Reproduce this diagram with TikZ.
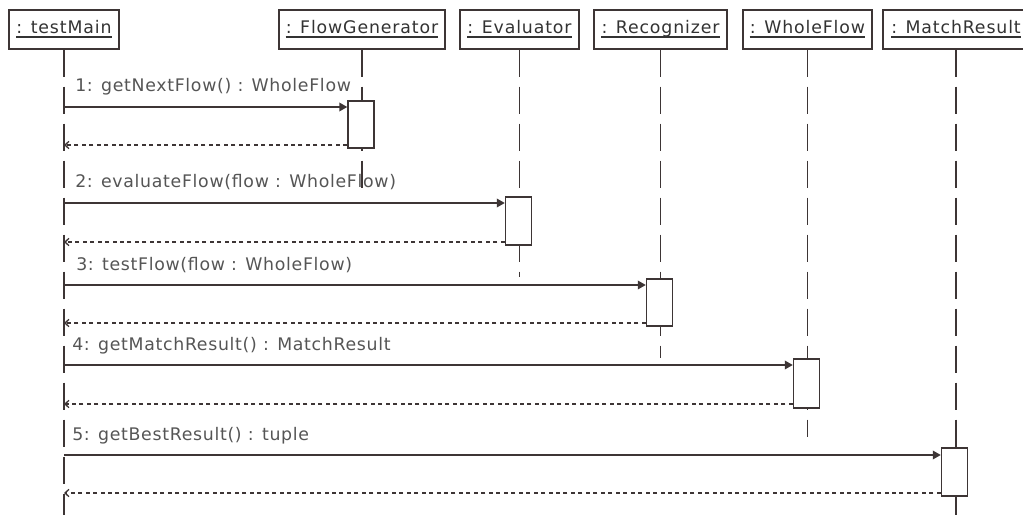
\documentclass[tikz,border=0pt]{standalone}
\usepackage{fontspec}
\setmainfont{DejaVu Sans}
\newfontfamily\msgfont[LetterSpace=4]{DejaVu Sans}
\newfontfamily\headfont[LetterSpace=5]{DejaVu Sans}
\usetikzlibrary{arrows.meta}
\definecolor{ink}{HTML}{3D3535}
\definecolor{msgtext}{HTML}{555555}
\definecolor{headtext}{HTML}{333333}
\newlength\upx
\setlength\upx{0.75pt}
\tikzset{
  head/.style={draw=ink, fill=white, line width=1.1pt, minimum height=39\upx, inner sep=0pt},
  headlabel/.style={inner sep=0pt, anchor=base, text=headtext, font=\headfont\fontsize{13}{15}\selectfont},
  headline/.style={draw=headtext, line width=0.8pt},
  life/.style={draw=ink, line width=1.1pt, dash pattern=on 20.25pt off 7.5pt},
  actbox/.style={draw=ink, fill=white, line width=1.1pt, minimum width=26\upx, inner sep=0pt},
  call/.style={draw=ink, line width=1.1pt, -{Triangle[length=6pt,width=6.5pt]}},
  ret/.style={draw=ink, line width=1pt, dash pattern=on 3pt off 2.6pt, -{Straight Barb[length=3pt,width=5.5pt]}},
  msg/.style={inner sep=0pt, anchor=base west, text=msgtext, font=\msgfont\fontsize{13}{15}\selectfont}
}
% a lifeline head: box, then its underlined name clipped to the box interior
\newcommand\objhead[5]{% name, centre x, width, text, inset
  \node[head, minimum width=#3\upx] (#1) at (#2,29.5) {};
  \begin{scope}
    \clip ([xshift=#5\upx]#1.south west) rectangle ([xshift=-#5\upx]#1.north east);
    \node[headlabel] (#1txt) at (#1.center |- 0,33) {#4};
    \draw[headline] ([yshift=-3pt]#1txt.base west) -- ([yshift=-3pt]#1txt.base east);
  \end{scope}
}
\begin{document}
\begin{tikzpicture}[x=0.75pt, y=-0.75pt]
\useasboundingbox (0,0) rectangle (1023,515);

% object heads
\objhead{tm}{64}{110}{: testMain}{7}
\objhead{fg}{362}{166}{: FlowGenerator}{7}
\objhead{ev}{519.5}{119}{: Evaluator}{7}
\objhead{rc}{660.5}{133}{: Recognizer}{7}
\objhead{wf}{807.5}{129}{: WholeFlow}{7}
\objhead{mr}{956}{146}{: MatchResult}{7}

% lifelines
\coordinate (tmEnd) at (64,515);
\coordinate (fgEnd) at (362,190);
\coordinate (evEnd) at (519.5,277);
\coordinate (rcEnd) at (660.5,358);
\coordinate (wfEnd) at (807.5,437);
\coordinate (mrEnd) at (956,515);
\draw[life] (tm.south) -- (tmEnd);
\draw[life] (fg.south) -- (fgEnd);
\draw[life] (ev.south) -- (evEnd);
\draw[life] (rc.south) -- (rcEnd);
\draw[life] (wf.south) -- (wfEnd);
\draw[life] (mr.south) -- (mrEnd);

% activations
\node[actbox, minimum height=47\upx] (a1) at (361,124.5) {};
\node[actbox, minimum height=48\upx] (a2) at (518.5,221) {};
\node[actbox, minimum height=47\upx] (a3) at (659.5,302.5) {};
\node[actbox, minimum height=49\upx] (a4) at (806.5,383.5) {};
\node[actbox, minimum height=48\upx] (a5) at (954.5,472) {};

% calls and returns
\coordinate (s1) at (64,107);
\coordinate (r1) at (64,145);
\coordinate (s2) at (64,203);
\coordinate (r2) at (64,242);
\coordinate (s3) at (64,285);
\coordinate (r3) at (64,323);
\coordinate (s4) at (64,365);
\coordinate (r4) at (64,404);
\coordinate (s5) at (64,455);
\coordinate (r5) at (64,493);
\draw[call] (s1) -- (s1 -| a1.west);
\draw[ret] (a1.west |- r1) -- (r1);
\draw[call] (s2) -- (s2 -| a2.west);
\draw[ret] (a2.west |- r2) -- (r2);
\draw[call] (s3) -- (s3 -| a3.west);
\draw[ret] (a3.west |- r3) -- (r3);
\draw[call] (s4) -- (s4 -| a4.west);
\draw[ret] (a4.west |- r4) -- (r4);
\draw[call] (s5) -- (s5 -| a5.west);
\draw[ret] (a5.west |- r5) -- (r5);

% message labels
\node[msg] (m1) at (75,91) {1: getNextFlow() : WholeFlow};
\node[msg] (m2) at (75,187) {2: evaluateFlow(flow : WholeFlow)};
\node[msg] (m3) at (76,270) {3: testFlow(flow : WholeFlow)};
\node[msg] (m4) at (72,350) {4: getMatchResult() : MatchResult};
\node[msg] (m5) at (72,440) {5: getBestResult() : tuple};
\end{tikzpicture}
\end{document}
